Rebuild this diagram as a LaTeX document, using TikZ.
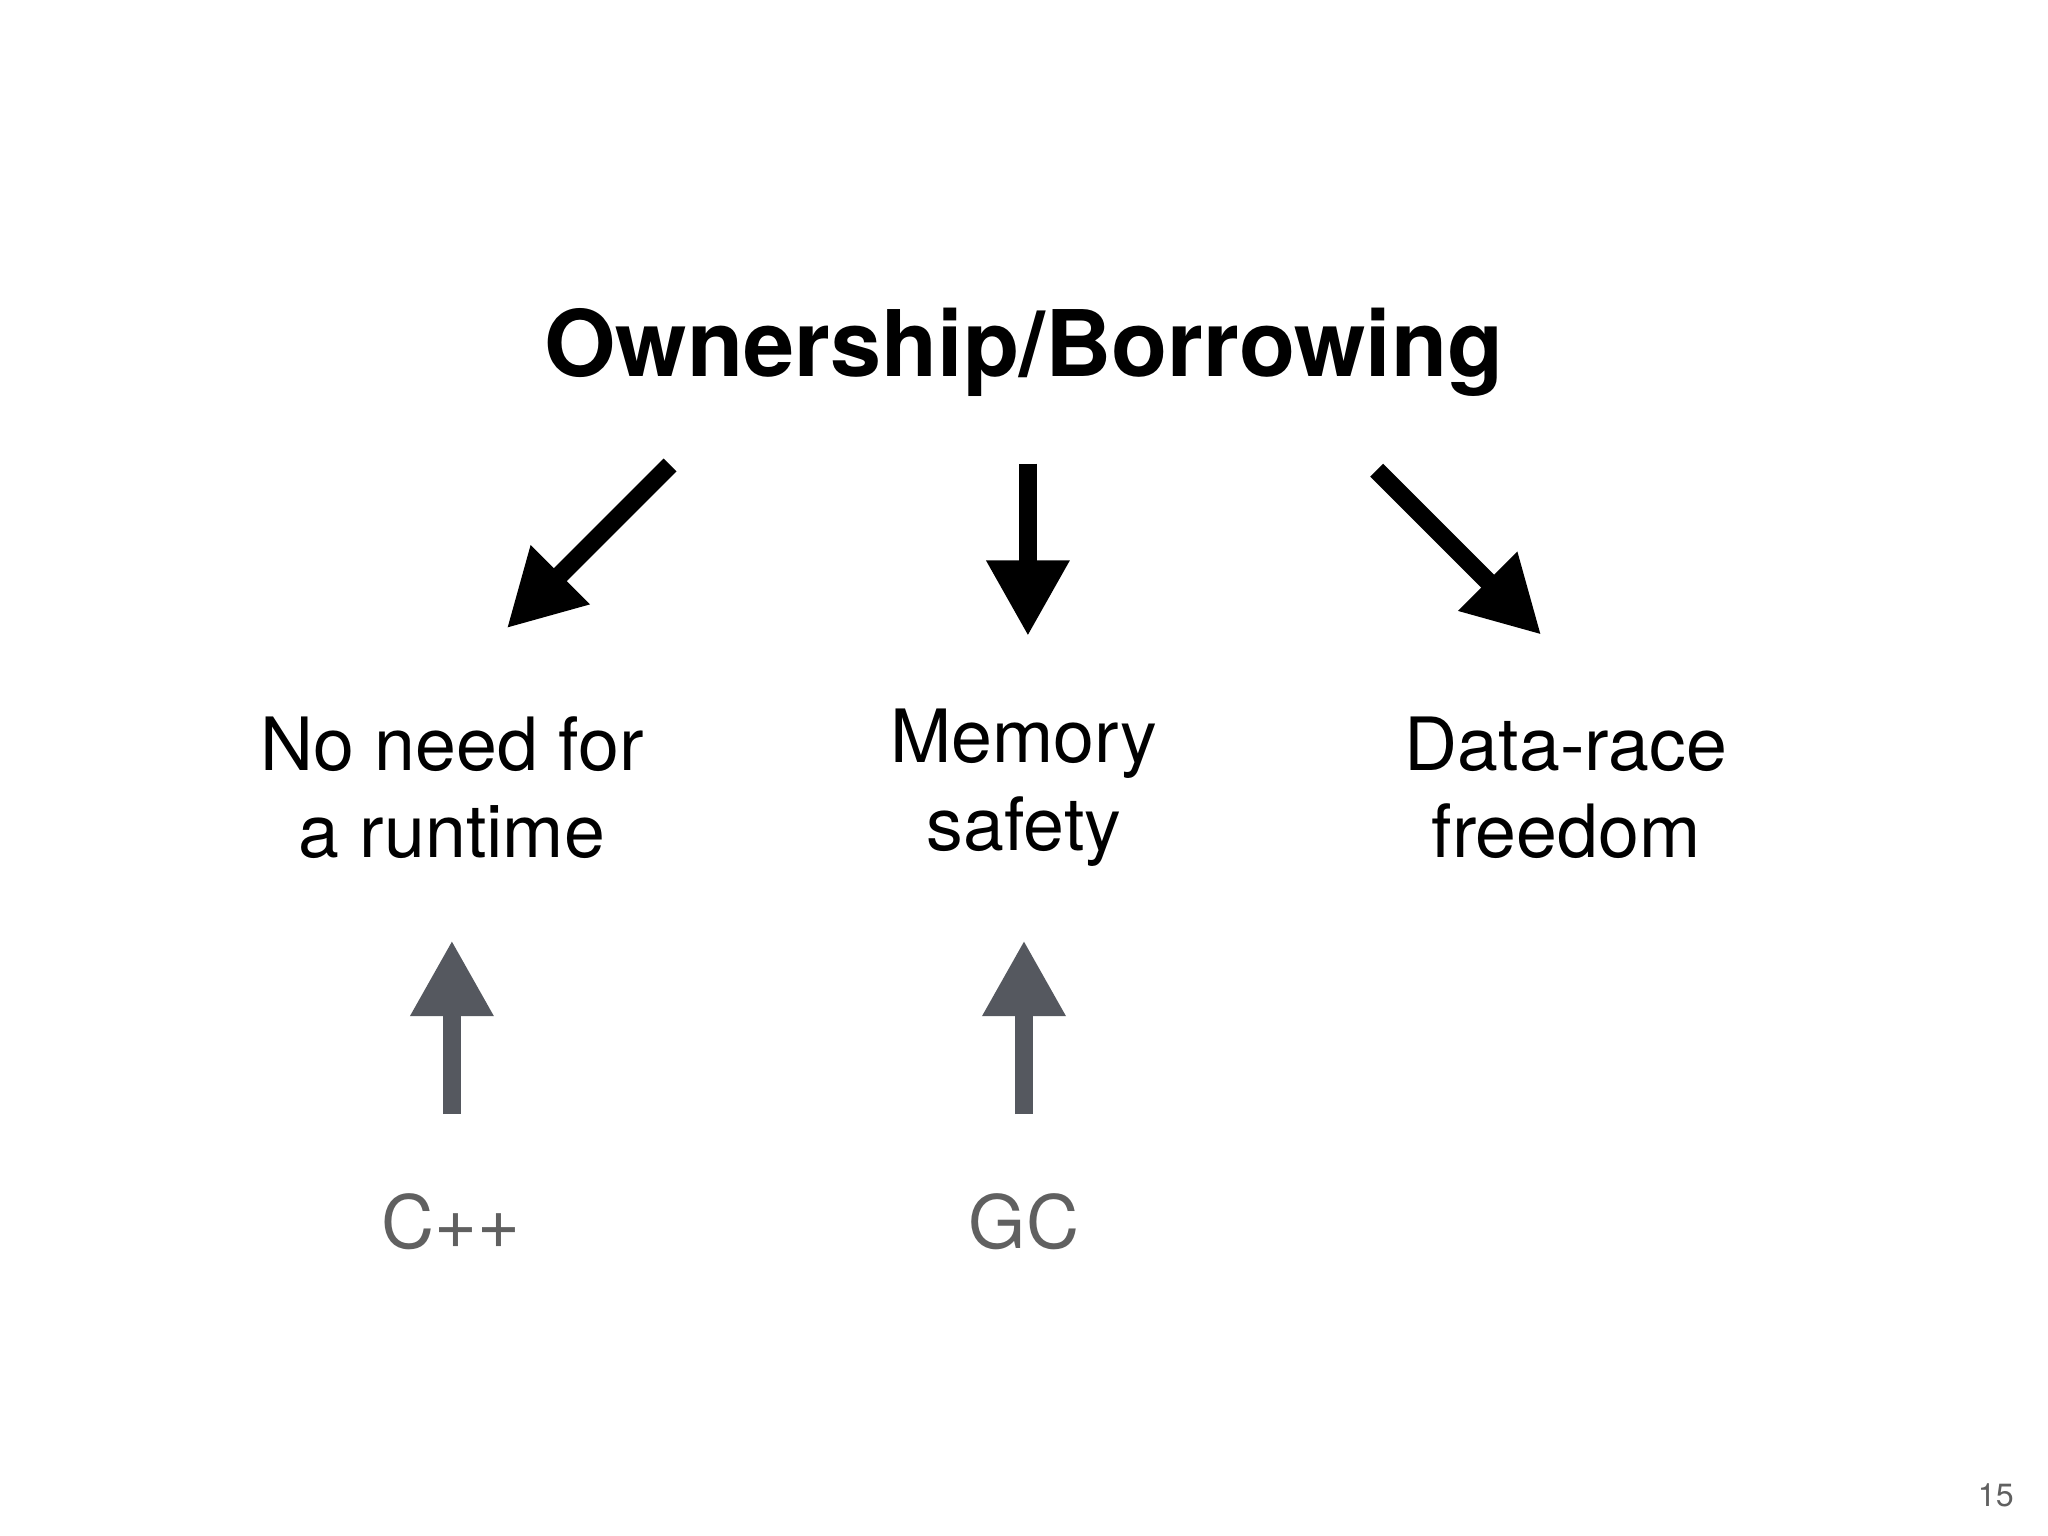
\documentclass[tikz,border=0pt]{standalone}
\usepackage{fontspec}
\setmainfont{TeX Gyre Heros}
\usetikzlibrary{arrows.meta}
\definecolor{ag}{HTML}{55585F}
\definecolor{tg}{HTML}{606060}
\begin{document}
\begin{tikzpicture}[x=0.01cm,y=-0.01cm,
  bigarr/.style={line width=0.14cm,-{Triangle[length=0.58cm,width=0.6cm]}},
  lbl/.style={align=center,font=\fontsize{16}{19}\selectfont,inner sep=0pt}]
\fill[white] (0,0) rectangle (1568,1176);
\useasboundingbox (0,0) rectangle (1568,1176);
\node[font=\fontsize{20}{24}\selectfont\bfseries] (title) at (784,270) {Ownership/Borrowing};
\node[lbl] (runtime) at (346,603) {No need for\\a runtime};
\node[lbl] (mem) at (784,603) {Memory\\safety};
\node[lbl] (race) at (1199,603) {Data-race\\freedom};
\node[lbl,text=tg] (cpp) at (345,935) {C++};
\node[lbl,text=tg] (gc) at (784,935) {GC};
\node[font=\fontsize{7}{8}\selectfont,text=tg] (num) at (1528,1145) {15};
\coordinate (l0) at (513,356); \coordinate (l1) at (388,481);
\coordinate (m0) at (787,355); \coordinate (m1) at (787,487);
\coordinate (r0) at (1054,360); \coordinate (r1) at (1180,486);
\coordinate (c0) at (346,853); \coordinate (c1) at (346,720);
\coordinate (g0) at (784,853); \coordinate (g1) at (784,720);
\draw[bigarr] (l0) -- (l1);
\draw[bigarr] (m0) -- (m1);
\draw[bigarr] (r0) -- (r1);
\draw[bigarr,ag] (c0) -- (c1);
\draw[bigarr,ag] (g0) -- (g1);
\end{tikzpicture}
\end{document}
